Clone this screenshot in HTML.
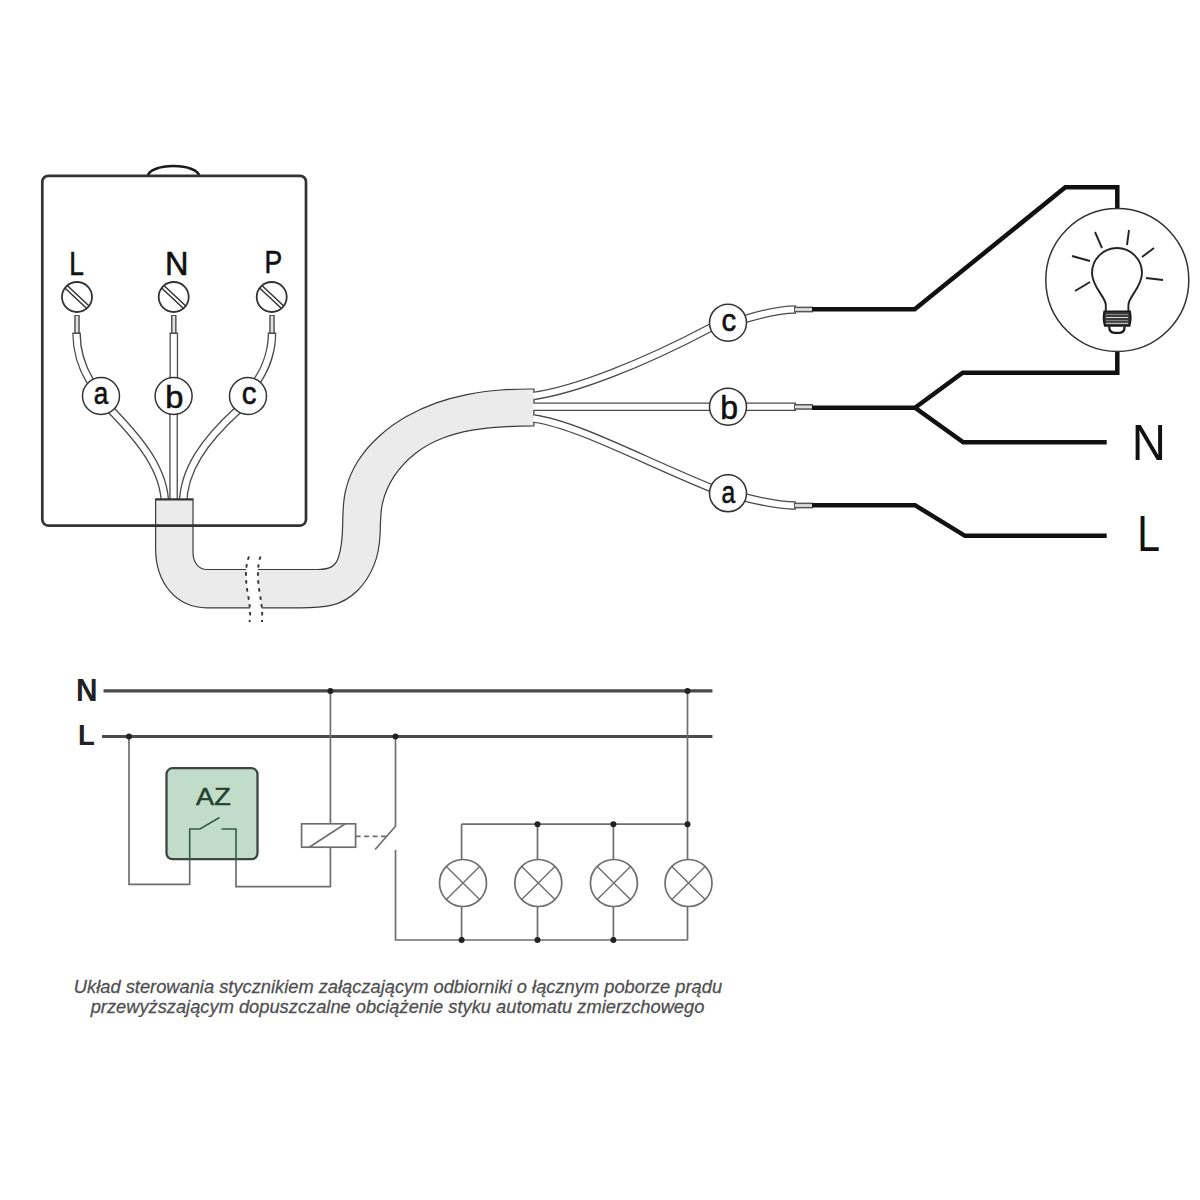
<!DOCTYPE html>
<html><head><meta charset="utf-8">
<style>
html,body{margin:0;padding:0;background:#fff;}
body{width:1200px;height:1200px;overflow:hidden;}
svg{display:block;}
text{font-family:"Liberation Sans",sans-serif;}
</style></head>
<body>
<svg width="1200" height="1200" viewBox="0 0 1200 1200">
<rect width="1200" height="1200" fill="#fff"/>

<!-- ===== TOP: junction box ===== -->
<path d="M148,176 A25.5,10 0 0 1 199,176" fill="none" stroke="#1a1a1a" stroke-width="2.6"/>

<text transform="translate(69.2,274.7) scale(0.775,1)" font-size="33.91" fill="#111" stroke="#111" stroke-width="0.6">L</text>
<text transform="translate(164.9,274.5) scale(0.984,1)" font-size="33.04" fill="#111" stroke="#111" stroke-width="0.6">N</text>
<text transform="translate(264.38,273.3) scale(0.832,1)" font-size="31.88" fill="#111" stroke="#111" stroke-width="0.6">P</text>

<!-- screws -->
<defs>
<g id="screw">
<circle cx="0" cy="0" r="15" fill="#fff" stroke="#333" stroke-width="1.8"/>
<path d="M-9.8,-11.5 L12.1,9 M-12.1,-9 L9.8,11.5" fill="none" stroke="#333" stroke-width="1.5"/>
</g>
</defs>
<use href="#screw" x="77" y="297"/>
<use href="#screw" x="173.7" y="297"/>
<use href="#screw" x="271.7" y="297"/>

<!-- wires in box: thin terminals -->
<g fill="none" stroke-linecap="butt">
<g stroke="#555" stroke-width="5.6">
<path d="M77,315 V333"/><path d="M173.8,315 V333"/><path d="M272,315 V333"/>
</g>
<g stroke="#e2e2e2" stroke-width="2.6">
<path d="M77,316 V333"/><path d="M173.8,316 V333"/><path d="M272,316 V333"/>
</g>
<!-- thick wires -->
<g stroke="#4a4a4a" stroke-width="8.6">
<path d="M76.5,332.5 C76.5,347 80,364 90,381"/>
<path d="M173.8,332.5 V380"/>
<path d="M272,332.5 C272,350 266,368 257,381"/>
<path d="M111,410 C140,440 165,470 165,505"/>
<path d="M173.6,412 V505"/>
<path d="M238,410 C205,440 183,470 183,505"/>
</g>
<g stroke="#fff" stroke-width="6">
<path d="M76.5,334 C76.5,347 80,364 90,381"/>
<path d="M173.8,334 V380"/>
<path d="M272,334 C272,350 266,368 257,381"/>
<path d="M111,410 C140,440 165,470 165,505"/>
<path d="M173.6,412 V505"/>
<path d="M238,410 C205,440 183,470 183,505"/>
</g>
</g>

<!-- circles a b c -->
<g fill="#fff" stroke="#333" stroke-width="1.5">
<circle cx="101" cy="396" r="18.5"/>
<circle cx="173.6" cy="396" r="18.5"/>
<circle cx="248" cy="396" r="18.5"/>
</g>
<text transform="translate(93.83,404.38) scale(0.824,1)" font-size="31.64" fill="#111" stroke="#111" stroke-width="0.6">a</text>
<text transform="translate(165.18,407.98) scale(1.017,1)" font-size="32.11" fill="#111" stroke="#111" stroke-width="0.6">b</text>
<text transform="translate(241.67,404.38) scale(0.918,1)" font-size="32.18" fill="#111" stroke="#111" stroke-width="0.6">c</text>

<!-- cable -->
<path d="M155.6,499 V548 C155.6,584 177,607.8 207,607.8 H300 C309.9,607.8 320.9,607.8 331.0,605.4 C341.1,603.0 350.1,597.9 357.4,590.7 C364.6,583.5 370.3,574.5 374.1,564.9 C377.9,555.2 379.6,544.8 380.1,534.5 C380.5,524.1 380.2,513.7 382.4,503.7 C384.6,493.8 388.8,484.3 394.5,475.7 C400.3,467.2 407.5,459.5 415.6,453.2 C423.8,446.9 432.8,442.0 442.4,438.3 C451.9,434.6 462.0,432.0 472.3,430.2 C482.6,428.4 493.1,427.4 503.5,426.8 C513.9,426.1 524.1,425.9 533.9,425.8 L534,389 C523.0,388.9 511.9,389.2 500.9,390.0 C489.8,390.9 478.9,392.2 468.1,394.3 C457.3,396.4 446.7,399.2 436.4,402.9 C426.1,406.5 416.0,411.1 406.4,416.6 C396.7,422.1 387.4,428.7 379.2,436.2 C370.9,443.6 363.6,452.0 357.8,461.3 C352.0,470.5 347.8,480.7 345.4,491.4 C343.0,502.1 342.8,513.2 342.7,524.3 C342.5,535.4 342.2,546.5 338.5,557.0 C336,566 330,569.5 318,569.5 H207 C198,569.5 193,562 193,552 V499 Z" fill="#eaebea" stroke="#3a3a3a" stroke-width="1.2"/>
<!-- cable break -->
<path d="M249,552 C245,566 245.5,580 247.5,592 C249.5,603 251,612 249.5,624 L262,624 C262.7,612 261.5,603 259.5,592 C257.5,580 257,566 260.5,552 Z" fill="#fff" stroke="none"/>
<g fill="none" stroke="#333" stroke-width="1.9" stroke-dasharray="3.5,4.5">
<path d="M249,556.5 C245,566 245.5,580 247.5,592 C249.5,603 251,612 249.5,622"/>
<path d="M260.5,556.5 C257,566 257.5,580 259.5,592 C261.5,603 262.7,612 262,622"/>
</g>
<path d="M155.6,499.5 H193" stroke="#333" stroke-width="2"/>

<rect x="42.3" y="175.8" width="263.7" height="349.8" rx="6" fill="none" stroke="#333" stroke-width="2.7"/>
<!-- right wires from cable -->
<g fill="none">
<g stroke="#4a4a4a" stroke-width="8.6">
<path d="M534,396 C575,390 640,365 711,327.5"/>
<path d="M534,406.7 H711"/>
<path d="M534,418.5 C575,424 640,459 711,488"/>
<path d="M745,319 C765,313 780,309.5 796,309.5"/>
<path d="M745,406.7 H796"/>
<path d="M745,497.5 C765,502.5 780,505.5 796,505.5"/>
</g>
<g stroke="#fff" stroke-width="6">
<path d="M533,396 C575,390 640,365 711,327.5"/>
<path d="M533,406.7 H711"/>
<path d="M533,418.5 C575,424 640,459 711,488"/>
<path d="M745,319 C765,313 780,309.5 795,309.5"/>
<path d="M745,406.7 H795"/>
<path d="M745,497.5 C765,502.5 780,505.5 795,505.5"/>
</g>
<g stroke="#555" stroke-width="5.8">
<path d="M794,309.5 H813"/><path d="M794,406.9 H813"/><path d="M794,505.5 H813"/>
</g>
<g stroke="#dedede" stroke-width="2.8">
<path d="M795,309.5 H812"/><path d="M795,406.9 H812"/><path d="M795,505.5 H812"/>
</g>
</g>
<g fill="#fff" stroke="#333" stroke-width="1.5">
<circle cx="728" cy="322.7" r="18.5"/>
<circle cx="728" cy="406.7" r="18.5"/>
<circle cx="728" cy="493.3" r="18.5"/>
</g>
<text transform="translate(721.38,330.99) scale(0.932,1)" font-size="31.45" fill="#111" stroke="#111" stroke-width="0.6">c</text>
<text transform="translate(720.22,418.67) scale(0.968,1)" font-size="33.06" fill="#111" stroke="#111" stroke-width="0.6">b</text>
<text transform="translate(721.59,502.99) scale(0.785,1)" font-size="31.45" fill="#111" stroke="#111" stroke-width="0.6">a</text>

<!-- black power lines -->
<g fill="none" stroke="#111" stroke-width="4.5" stroke-linejoin="miter">
<path d="M812,309.3 H914.7 L1065.3,187.3 H1117.3 V208.7"/>
<path d="M1117.3,351.3 V372.7 H962.7 L915,407.7"/>
<path d="M812,407.7 H915 L963.3,442.3 H1106.7"/>
<path d="M812,505.2 H915 L965,535.8 H1106.7"/>
</g>
<circle cx="1117.3" cy="280" r="71.5" fill="#fff" stroke="#333" stroke-width="1.5"/>

<!-- bulb -->
<g fill="none" stroke="#222" stroke-width="1.9" stroke-linecap="butt">
<path d="M1105.8,311 V305 C1105.8,297 1092,287 1092,273 A25,25 0 0 1 1142,273 C1142,287 1128.4,297 1128.4,305 V311"/>
<path d="M1095,232 L1102,248"/>
<path d="M1129,230 L1127,245"/>
<path d="M1154,248 L1142,257"/>
<path d="M1072,256 L1090,261"/>
<path d="M1075,291 L1090,282"/>
<path d="M1146,278 L1163,280"/>
</g>
<path d="M1104.3,311.3 H1130 C1131,316 1131,321 1129.5,325.8 H1104.8 C1103.3,321 1103.3,316 1104.3,311.3 Z" fill="#3a3a3a" stroke="#1a1a1a" stroke-width="1.8"/>
<g stroke="#d8d8d8" stroke-width="1"><path d="M1106,317.5 H1128 M1106,323.3 H1128"/></g><g stroke="#999" stroke-width="0.8"><path d="M1106,314.5 H1128 M1106,320.5 H1128"/></g>
<path d="M1109.2,326.5 C1109.2,330.5 1111,332.8 1114.5,332.8 H1119.5 C1123,332.8 1124.6,330.5 1124.6,326.5" fill="none" stroke="#1a1a1a" stroke-width="2.3"/>

<text transform="translate(1131.71,460.0) scale(0.933,1)" font-size="50.72" fill="#111">N</text>
<text transform="translate(1137.22,550.5) scale(0.814,1)" font-size="50.36" fill="#111">L</text>

<!-- ===== BOTTOM SCHEMATIC ===== -->
<text transform="translate(76.06,701.0) scale(0.971,1)" font-size="30.72" font-weight="bold" fill="#222">N</text>
<text transform="translate(78.11,745.0) scale(0.906,1)" font-size="30.43" font-weight="bold" fill="#222">L</text>
<g fill="none" stroke="#4a4a4a" stroke-width="3.1">
<path d="M103.5,690.9 H712.4"/>
<path d="M102,736.5 H712.4"/>
</g>
<g fill="none" stroke="#6e6e6e" stroke-width="1.7">
<path d="M129,736.5 V884.4 H189.7 V829"/>
<path d="M236,829 V886.6 H330.4 V847.2"/>
<path d="M330.4,691 V823.8"/>
<rect x="301.6" y="823.8" width="54" height="23.4"/>
<path d="M309.2,847.2 L345.3,823.8"/>
<path d="M395.5,736.5 V826.2 L375.1,849.5"/>
<path d="M395.5,850 V940 H687.5"/>
<path d="M687.5,691 V940"/>
<path d="M461.6,824.2 H687.5"/>
<path d="M461.6,824.2 V940 M537.5,824.2 V940 M613.4,824.2 V940"/>
</g>
<path d="M355.6,836.4 H386.2" stroke="#6e6e6e" stroke-width="1.7" stroke-dasharray="5,3.5"/>
<!-- lamps -->
<g fill="#fff" stroke="#6e6e6e" stroke-width="1.7">
<circle cx="463" cy="883" r="23.5"/>
<circle cx="538.3" cy="883" r="23.5"/>
<circle cx="613.9" cy="883" r="23.5"/>
<circle cx="688.5" cy="883" r="23.5"/>
</g>
<g stroke="#6e6e6e" stroke-width="1.4">
<path d="M446.4,866.4 L479.6,899.6 M446.4,899.6 L479.6,866.4"/>
<path d="M521.7,866.4 L554.9,899.6 M521.7,899.6 L554.9,866.4"/>
<path d="M597.3,866.4 L630.5,899.6 M597.3,899.6 L630.5,866.4"/>
<path d="M671.9,866.4 L705.1,899.6 M671.9,899.6 L705.1,866.4"/>
</g>
<g fill="#222">
<circle cx="330.4" cy="690.9" r="3"/>
<circle cx="687.5" cy="690.9" r="3"/>
<circle cx="129" cy="736.5" r="3"/>
<circle cx="395.5" cy="736.5" r="3"/>
<circle cx="537.5" cy="824.2" r="3"/>
<circle cx="613.4" cy="824.2" r="3"/>
<circle cx="687.5" cy="824.2" r="3"/>
<circle cx="461.6" cy="940" r="3"/>
<circle cx="537.5" cy="940" r="3"/>
<circle cx="613.4" cy="940" r="3"/>
</g>

<!-- AZ box -->
<rect x="166.5" y="768.2" width="91" height="91" rx="6" fill="#c1ddca" stroke="#3d4641" stroke-width="2.3"/>
<text transform="translate(196.11,805.0) scale(1.118,1)" font-size="24.2" fill="#25402f" stroke="#25402f" stroke-width="0.5">AZ</text>
<g fill="none" stroke="#355a45" stroke-width="1.6">
<path d="M189.7,860 V829 H200 L219.5,817.5"/>
<path d="M221.5,829 H236 V860"/>
</g>

<!-- caption -->
<g font-size="18.3" font-style="italic" fill="#505050" stroke="#505050" stroke-width="0.28" text-anchor="middle">
<text x="398" y="993">Układ sterowania stycznikiem załączającym odbiorniki o łącznym poborze prądu</text>
<text x="397.5" y="1012.5">przewyższającym dopuszczalne obciążenie styku automatu zmierzchowego</text>
</g>

</svg>
</body></html>
